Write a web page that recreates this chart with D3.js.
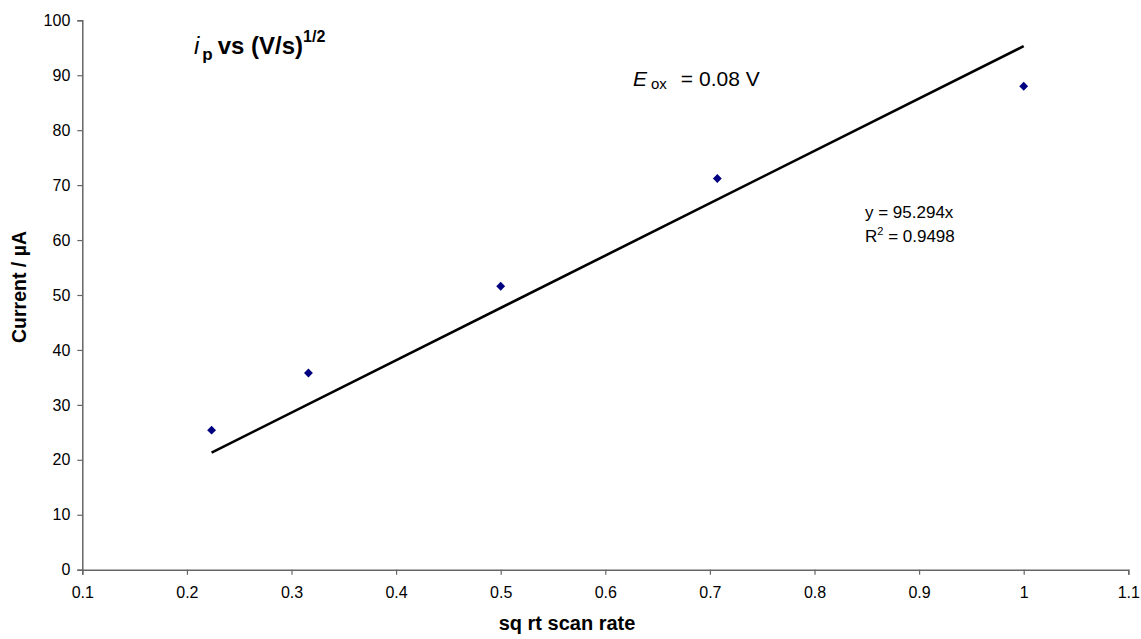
<!DOCTYPE html>
<html>
<head>
<meta charset="utf-8">
<script src="https://cdn.jsdelivr.net/npm/d3@7"></script>
<style>
  body { margin: 0; background: #fff; }
  svg { display: block; font-family: Arial, "Liberation Sans", sans-serif; }
</style>
</head>
<body>
<svg id="chart" width="1141" height="639"></svg>
<script>
// Peak current against the square root of scan rate
const scanRateSqrt = [0.2236, 0.3162, 0.5, 0.7071, 1.0];
const peakCurrent = [25.4, 35.8, 51.6, 71.2, 88.0];
const slope = 95.294;
const rSquared = 0.9498;
const xTicks = [0.1, 0.2, 0.3, 0.4, 0.5, 0.6, 0.7, 0.8, 0.9, 1, 1.1];
const yTicks = [0, 10, 20, 30, 40, 50, 60, 70, 80, 90, 100];

const svg = d3.select("#chart");
const margin = { left: 82.3, right: 1141 - 1128.3, top: 20.3, bottom: 639 - 569.7 };
const W = 1141, H = 639;

const x = d3.scaleLinear().domain([0.1, 1.1]).range([margin.left, W - margin.right]);
const y = d3.scaleLinear().domain([0, 100]).range([H - margin.bottom, margin.top]);

const axisColor = "#666";

// Y axis
const yAxis = svg.append("g")
  .attr("transform", `translate(${margin.left},0)`)
  .call(d3.axisLeft(y).tickValues(yTicks).tickSize(5).tickPadding(7).tickFormat(d3.format("d")));
// X axis
const xAxis = svg.append("g")
  .attr("transform", `translate(0,${H - margin.bottom})`)
  .call(d3.axisBottom(x).tickValues(xTicks).tickSize(5).tickPadding(12).tickFormat(d => String(+d.toFixed(1))));

[yAxis, xAxis].forEach(g => {
  g.select(".domain").attr("stroke", axisColor).attr("stroke-width", 1.5);
  g.selectAll(".tick line").attr("stroke", axisColor).attr("stroke-width", 1.2);
  g.selectAll(".tick text").attr("fill", "#000").style("font-size", "16px")
    .style("font-family", "Arial, 'Liberation Sans', sans-serif");
});

// Linear fit through origin
const x0 = d3.min(scanRateSqrt), x1 = d3.max(scanRateSqrt);
svg.append("line")
  .attr("x1", x(x0)).attr("y1", y(slope * x0))
  .attr("x2", x(x1)).attr("y2", y(slope * x1))
  .attr("stroke", "#000").attr("stroke-width", 2.6);

// Data markers
svg.append("g").selectAll("path")
  .data(scanRateSqrt.map((v, i) => [v, peakCurrent[i]]))
  .join("path")
  .attr("d", d3.symbol(d3.symbolDiamond2, 50))
  .attr("transform", d => `translate(${x(d[0])},${y(d[1])})`)
  .attr("fill", "#000080");

// Axis titles
svg.append("text")
  .attr("x", 567).attr("y", 630)
  .attr("text-anchor", "middle")
  .style("font-size", "20px").style("font-weight", "bold")
  .text("sq rt scan rate");

svg.append("text")
  .attr("transform", "translate(26,287) rotate(-90)")
  .attr("text-anchor", "middle")
  .style("font-size", "19.5px").style("font-weight", "bold")
  .text("Current / µA");

// Plot title
const title = svg.append("text")
  .attr("x", 194).attr("y", 54)
  .style("font-size", "24px").style("font-weight", "bold");
title.append("tspan").style("font-style", "italic").style("font-weight", "normal").text("i");
title.append("tspan").attr("dx", 3).attr("dy", 6).style("font-size", "17px").text("p");
title.append("tspan").attr("dx", 5).attr("dy", -6).text("vs (V/s)");
title.append("tspan").attr("dy", -12).style("font-size", "16px").text("1/2");

// Potential annotation
const eox = svg.append("text")
  .attr("x", 633).attr("y", 86)
  .style("font-size", "21px");
eox.append("tspan").style("font-style", "italic").text("E");
eox.append("tspan").attr("dx", 4).attr("dy", 3).style("font-size", "15px").text("ox");
eox.append("tspan").attr("dx", 14).attr("dy", -3).text("= 0.08 V");

// Fit equation
svg.append("text")
  .attr("x", 865).attr("y", 218)
  .style("font-size", "17px")
  .text(`y = ${slope}x`);
const r2 = svg.append("text")
  .attr("x", 865).attr("y", 242)
  .style("font-size", "17px");
r2.append("tspan").text("R");
r2.append("tspan").attr("dy", -7).style("font-size", "11px").text("2");
r2.append("tspan").attr("dy", 7).text(` = ${rSquared}`);
</script>
</body>
</html>
